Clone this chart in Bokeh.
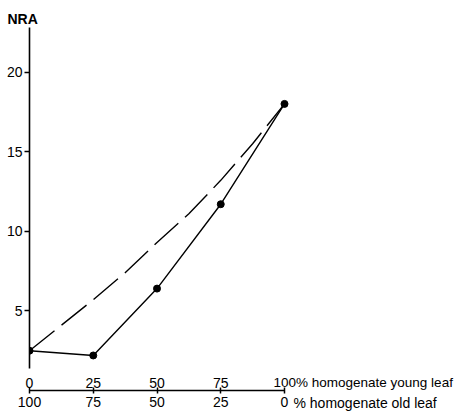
from bokeh.plotting import figure
from bokeh.models import Range1d, FixedTicker, LinearAxis
from bokeh.core.properties import value
from bokeh.embed import file_html
from bokeh.resources import INLINE

# data
pct_young = [0, 25, 50, 75, 100]
nra_measured = [2.5, 2.2, 6.4, 11.7, 18.0]

pct_curve = [0, 12.5, 25, 37.5, 50, 62.5, 75, 87.5, 100]
nra_expected = [2.5, 4.1, 5.7, 7.4, 9.3, 11.1, 13.2, 15.5, 18.0]

y_ticks = [5, 10, 15, 20]
top_labels = ["0", "25", "50", "75"]
top_last = "100% homogenate young leaf"
bottom_labels = {0: "100", 25: "75", 50: "50", 75: "25", 100: "0"}
bottom_last = "% homogenate old leaf"
y_title = "NRA"

FONT = "Liberation Sans"
W, H = 455, 416
left, bottom, top = 29, 26, 27
px_per_x = 2.55

p = figure(width=W, height=H, output_backend="svg", toolbar_location=None,
           x_range=Range1d(0, (W - left) / px_per_x), y_range=Range1d(0, 22.8),
           min_border_left=left, min_border_right=0, min_border_top=top,
           min_border_bottom=bottom, x_axis_type=None, y_axis_type=None)
p.outline_line_color = None
p.xgrid.visible = False
p.ygrid.visible = False

yax = LinearAxis(ticker=FixedTicker(ticks=y_ticks), bounds=(1.4, 22.8))
yax.axis_line_width = 1.6
yax.major_tick_line_width = 1.5
yax.major_tick_in = 0
yax.major_tick_out = 5
yax.minor_tick_line_color = None
yax.major_label_standoff = 2
yax.major_label_text_font = FONT
yax.major_label_text_font_size = "14px"
yax.major_label_text_color = "black"
p.add_layout(yax, "left")

xax = LinearAxis(ticker=FixedTicker(ticks=pct_young), bounds=(0, 100))
xax.axis_line_width = 1.5
xax.major_tick_line_width = 1.5
xax.major_tick_in = 3
xax.major_tick_out = 3
xax.minor_tick_line_color = None
xax.major_label_overrides = bottom_labels
xax.major_label_standoff = 3
xax.major_label_text_font = FONT
xax.major_label_text_font_size = "14px"
xax.major_label_text_color = "black"
p.add_layout(xax, "below")

p.line(pct_curve, nra_expected, line_color="black", line_width=1.4, line_dash="32 9")
p.line(pct_young, nra_measured, line_color="black", line_width=1.4)
p.scatter(pct_young, nra_measured, size=7, color="black")

# upper row of x tick labels (young leaf percentages)
p.text(x=pct_young[:4], y=[0] * 4, text=top_labels, text_align="center",
       text_baseline="alphabetic", y_offset=-8, text_font=value(FONT),
       text_font_size="14px", text_color="black", level="overlay")
p.text(x=[pct_young[4]], y=[0], text=[top_last], text_align="left",
       text_baseline="alphabetic", x_offset=-11, y_offset=-8, text_font=value(FONT),
       text_font_size="13.5px", text_color="black", level="overlay")
# caption after the lower row's last tick label
p.text(x=[pct_young[4]], y=[0], text=[bottom_last], text_align="left",
       text_baseline="top", x_offset=9, y_offset=4, text_font=value(FONT),
       text_font_size="14px", text_color="black", level="overlay")

# axis title at the top of the y axis
p.text(x=[0], y=[22.8], text=[y_title], text_align="left", text_baseline="alphabetic",
       x_offset=-22, y_offset=-9, text_font=value(FONT), text_font_size="14px",
       text_font_style="bold", text_color="black", level="overlay")

open("out.html", "w").write(file_html(p, INLINE))
